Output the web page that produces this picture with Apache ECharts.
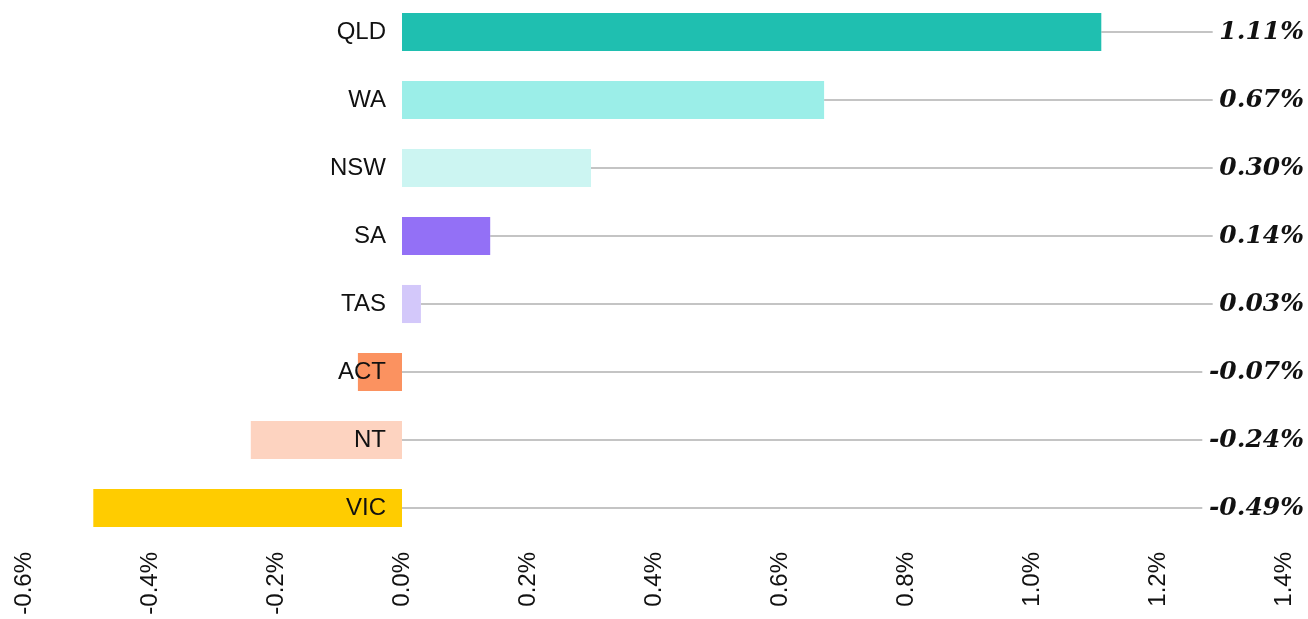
<!DOCTYPE html>
<html>
<head>
<meta charset="utf-8">
<script src="https://cdn.jsdelivr.net/npm/echarts@6/dist/echarts.min.js"></script>
<style>
  html, body { margin: 0; padding: 0; background: #fff; }
  #chart { width: 1308px; height: 619px; }
</style>
</head>
<body>
<div id="chart"></div>
<script>
const states = ["QLD", "WA", "NSW", "SA", "TAS", "ACT", "NT", "VIC"];
const growth = [1.11, 0.67, 0.30, 0.14, 0.03, -0.07, -0.24, -0.49];
const barColors = ["#1fbfb0", "#9beee8", "#ccf5f2", "#9370f6", "#d3c8fa", "#fb9260", "#fdd3c0", "#ffcc00"];

const c = echarts.init(document.getElementById("chart"));

c.setOption({
  animation: false,
  grid: { left: 24, right: 24, top: -2, bottom: 77, outerBoundsMode: "none" },
  xAxis: {
    type: "value",
    min: -0.6,
    max: 1.4,
    interval: 0.2,
    splitLine: { show: false },
    axisLine: { show: false },
    axisTick: { show: false },
    axisLabel: {
      rotate: 90,
      margin: 10,
      fontSize: 24,
      color: "#111",
      fontFamily: "Liberation Sans",
      formatter: v => v.toFixed(1) + "%"
    }
  },
  yAxis: {
    type: "category",
    inverse: true,
    data: states,
    offset: -378, // sit the labels on the 0% line
    axisLine: { show: false, onZero: false },
    axisTick: { show: false },
    axisLabel: {
      margin: 16,
      fontSize: 24,
      color: "#111",
      fontFamily: "Liberation Sans"
    },
    z: 5
  },
  series: [
    {
      type: "bar",
      barWidth: "56%",
      data: growth.map((v, i) => ({ value: v, itemStyle: { color: barColors[i] } })),
      label: {
        show: true,
        position: "right",
        color: "#111",
        formatter: p => "{gap| }{v|" + p.value.toFixed(2) + "%}",
        rich: {
          gap: { width: 12, fontSize: 24 },
          v: {
            fontSize: 25,
            fontWeight: "bold",
            fontStyle: "italic",
            fontFamily: "DejaVu Serif",
            color: "#111"
          }
        }
      },
      labelLine: { show: true, lineStyle: { color: "#c4c4c4", width: 2 } },
      labelLayout: () => ({ x: 1304, align: "right", verticalAlign: "middle" })
    }
  ]
});

window.addEventListener("resize", () => c.resize());
</script>
</body>
</html>
